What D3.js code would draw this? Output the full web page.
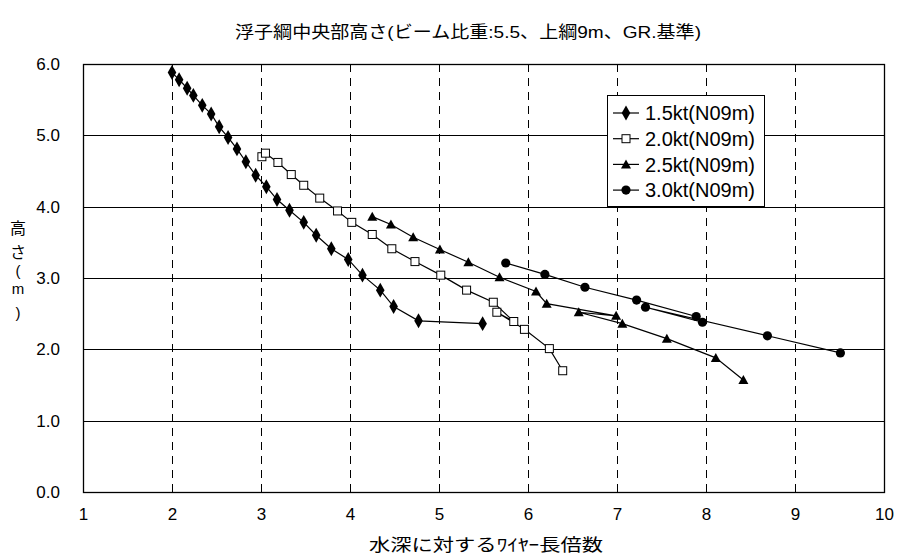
<!DOCTYPE html>
<html>
<head>
<meta charset="utf-8">
<script src="https://cdn.jsdelivr.net/npm/d3@7"></script>
<style>
  body { margin: 0; background: #fff; }
  svg { display: block; }
  text { font-family: "Liberation Sans", Arial, "Noto Sans CJK JP", sans-serif; fill: #000; }
  .jp { font-family: "Noto Sans CJK JP", "Liberation Sans", sans-serif; }
</style>
</head>
<body>
<svg id="chart" width="897" height="557"></svg>
<script>
// series values (x = wire length ratio, y = height m)
const s15x = [2.00, 2.08, 2.17, 2.24, 2.34, 2.44, 2.53, 2.63, 2.73, 2.83, 2.94, 3.06, 3.18, 3.32, 3.48, 3.62, 3.79, 3.98, 4.14, 4.34, 4.49, 4.77, 5.49]
const s15y = [5.88, 5.78, 5.66, 5.56, 5.42, 5.30, 5.12, 4.97, 4.81, 4.63, 4.44, 4.28, 4.10, 3.95, 3.78, 3.60, 3.41, 3.26, 3.04, 2.83, 2.60, 2.40, 2.36]

const s20x = [3.01, 3.05, 3.19, 3.34, 3.48, 3.66, 3.86, 4.02, 4.25, 4.47, 4.73, 5.02, 5.31, 5.61, 5.84, 5.65, 5.96, 6.24, 6.39]
const s20y = [4.70, 4.75, 4.62, 4.45, 4.30, 4.12, 3.94, 3.78, 3.61, 3.41, 3.23, 3.04, 2.83, 2.66, 2.39, 2.52, 2.28, 2.01, 1.70]

const s25x = [4.25, 4.46, 4.71, 5.01, 5.33, 5.68, 6.09, 6.21, 6.99, 6.57, 7.06, 7.56, 8.11, 8.42]
const s25y = [3.86, 3.75, 3.57, 3.40, 3.22, 3.01, 2.81, 2.64, 2.47, 2.52, 2.36, 2.15, 1.88, 1.57]

const s30x = [5.75, 6.19, 6.64, 7.22, 7.89, 7.96, 7.32, 8.69, 9.51]
const s30y = [3.21, 3.05, 2.87, 2.69, 2.46, 2.38, 2.59, 2.19, 1.95]

const seriesNames = ['1.5kt(N09m)', '2.0kt(N09m)', '2.5kt(N09m)', '3.0kt(N09m)']
const seriesMarkers = ['diamond', 'square', 'triangle', 'circle']
const xTicks = [1, 2, 3, 4, 5, 6, 7, 8, 9, 10]
const yTicks = [0, 1, 2, 3, 4, 5, 6]

const titleText = '浮子綱中央部高さ(ビーム比重:5.5、上綱9m、GR.基準)'
const xTitle = '水深に対するﾜｲﾔｰ長倍数'
const yTitleChars = ['高', 'さ', '(', 'm', ')']

const series = [
  { name: seriesNames[0], marker: seriesMarkers[0], pts: s15x.map((v, i) => [v, s15y[i]]) },
  { name: seriesNames[1], marker: seriesMarkers[1], pts: s20x.map((v, i) => [v, s20y[i]]) },
  { name: seriesNames[2], marker: seriesMarkers[2], pts: s25x.map((v, i) => [v, s25y[i]]) },
  { name: seriesNames[3], marker: seriesMarkers[3], pts: s30x.map((v, i) => [v, s30y[i]]) }
]

let margin = {top: 64, right: 13, bottom: 65, left: 83}
let W = 897, H = 557
let width = W - margin.left - margin.right
let height = H - margin.top - margin.bottom

let svg = d3.select('#chart')

let x = d3.scaleLinear().domain([1, 10]).range([0, width])
let y = d3.scaleLinear().domain([0, 6]).range([height, 0])

let g = svg.append('g')
    .attr('transform', 'translate(' + margin.left + ',' + margin.top + ')')

// grid: horizontal solid, vertical dashed
g.append('g').selectAll('line')
    .data(yTicks.slice(1, -1))
  .enter().append('line')
    .attr('x1', 0).attr('x2', width)
    .attr('y1', d => Math.round(y(d)) + 0.5).attr('y2', d => Math.round(y(d)) + 0.5)
    .attr('stroke', '#000').attr('stroke-width', 1)

g.append('g').selectAll('line')
    .data(xTicks.slice(1, -1))
  .enter().append('line')
    .attr('y1', 0).attr('y2', height)
    .attr('x1', d => Math.round(x(d)) + 0.5).attr('x2', d => Math.round(x(d)) + 0.5)
    .attr('stroke', '#000').attr('stroke-width', 1)
    .attr('stroke-dasharray', '8,6')

g.append('rect')
    .attr('x', 0.5).attr('y', 0.5)
    .attr('width', width).attr('height', height)
    .attr('fill', 'none').attr('stroke', '#000').attr('stroke-width', 1.3)

// axes (labels only, ticks are drawn by the grid)
let xAxis = d3.axisBottom(x).tickValues(xTicks).tickSize(0).tickPadding(16).tickFormat(d3.format('d'))
let yAxis = d3.axisLeft(y).tickValues(yTicks).tickSize(0).tickPadding(23).tickFormat(d3.format('.1f'))

g.append('g')
    .attr('class', 'x axis')
    .attr('transform', 'translate(0,' + height + ')')
    .call(xAxis)
    .call(a => a.select('.domain').remove())
    .selectAll('text').attr('font-size', 17).attr('font-family', 'Liberation Sans')

g.append('g')
    .attr('class', 'y axis')
    .call(yAxis)
    .call(a => a.select('.domain').remove())
    .selectAll('text').attr('font-size', 17).attr('font-family', 'Liberation Sans')

// series lines + markers
let line = d3.line().x(d => x(d[0])).y(d => y(d[1]))

function drawMarker (sel, kind) {
  if (kind === 'diamond') {
    sel.append('path').attr('d', d3.symbol(d3.symbolDiamond, 64)()).attr('fill', '#000')
  } else if (kind === 'square') {
    sel.append('rect').attr('x', -4).attr('y', -4).attr('width', 8).attr('height', 8)
      .attr('fill', '#fff').attr('stroke', '#000').attr('stroke-width', 1)
  } else if (kind === 'triangle') {
    sel.append('path').attr('d', 'M0,-5L5,4L-5,4Z').attr('fill', '#000')
  } else {
    sel.append('circle').attr('r', 4.6).attr('fill', '#000')
  }
}

series.forEach(s => {
  g.append('path')
      .datum(s.pts)
      .attr('d', line)
      .attr('fill', 'none')
      .attr('stroke', '#000')
      .attr('stroke-width', 1.2)
  g.append('g').selectAll('g')
      .data(s.pts)
    .enter().append('g')
      .attr('transform', d => 'translate(' + x(d[0]) + ',' + y(d[1]) + ')')
      .each(function () { drawMarker(d3.select(this), s.marker) })
})

// legend
let legend = svg.append('g').attr('transform', 'translate(607,95)')
legend.append('rect')
    .attr('x', 0.5).attr('y', 0.5).attr('width', 157).attr('height', 111)
    .attr('fill', '#fff').attr('stroke', '#000').attr('stroke-width', 1)

let item = legend.selectAll('.item')
    .data(series)
  .enter().append('g')
    .attr('class', 'item')
    .attr('transform', (d, i) => 'translate(0,' + (18 + i * 25.7) + ')')
item.append('line')
    .attr('x1', 6).attr('x2', 32).attr('y1', 0).attr('y2', 0)
    .attr('stroke', '#000').attr('stroke-width', 1.2)
item.append('g')
    .attr('transform', 'translate(19,0)')
    .each(function (d) { drawMarker(d3.select(this), d.marker) })
item.append('text')
    .attr('x', 38).attr('y', 0).attr('dy', '0.36em')
    .attr('font-size', 20)
    .text(d => d.name)

// titles
svg.append('text')
    .attr('x', 468).attr('y', 38)
    .attr('text-anchor', 'middle')
    .attr('font-size', 17)
    .attr('textLength', 466).attr('lengthAdjust', 'spacingAndGlyphs')
    .text(titleText)

svg.append('text')
    .attr('class', 'jp')
    .attr('x', 486).attr('y', 545)
    .attr('dy', '0.35em')
    .attr('text-anchor', 'middle')
    .attr('font-size', 17)
    .attr('textLength', 234).attr('lengthAdjust', 'spacingAndGlyphs')
    .text(xTitle)

svg.append('g').selectAll('text')
    .data(yTitleChars)
  .enter().append('text')
    .attr('class', (d, i) => i < 2 ? 'jp' : null)
    .attr('x', 18)
    .attr('y', (d, i) => [228, 252, 271, 289, 313][i])
    .attr('dy', '0.35em')
    .attr('text-anchor', 'middle')
    .attr('font-size', (d, i) => i < 2 ? 16 : 15)
    .text(d => d)
</script>
</body>
</html>
